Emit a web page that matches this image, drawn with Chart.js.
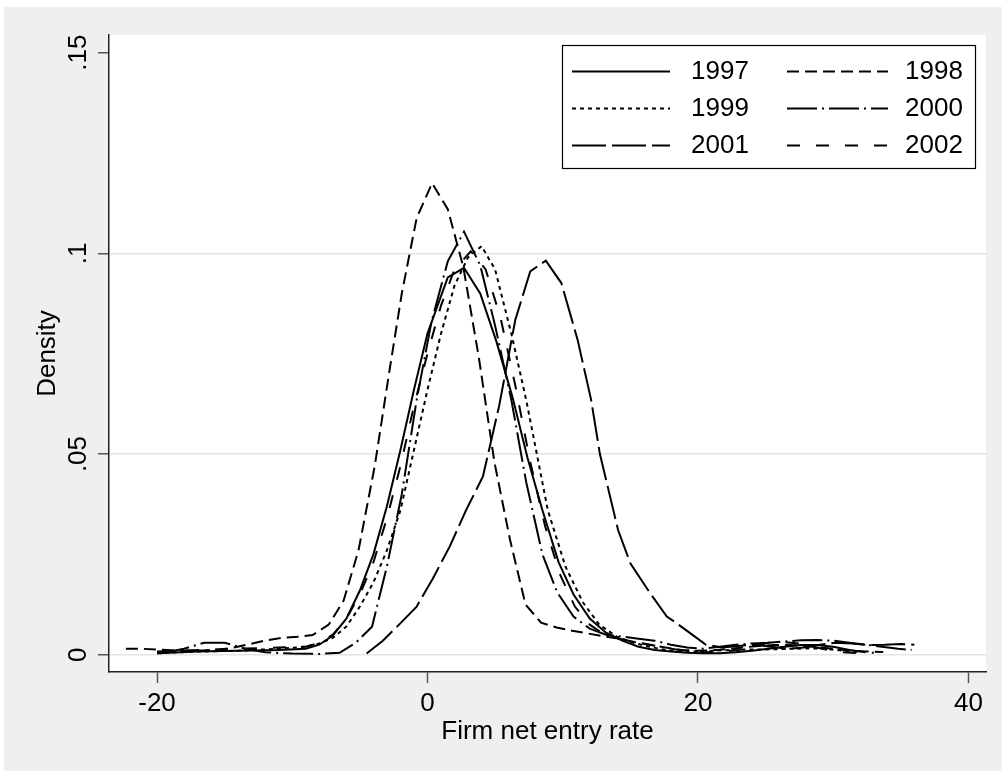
<!DOCTYPE html>
<html>
<head>
<meta charset="utf-8">
<script src="https://cdn.jsdelivr.net/npm/chart.js@4.4.0/dist/chart.umd.min.js"></script>
<style>
  html, body { margin: 0; padding: 0; background: #fff; }
  #wrap { width: 1002px; height: 771px; }
</style>
</head>
<body>
<div id="wrap"><canvas id="density" width="1002" height="771"></canvas></div>
<script>
// kernel density of firm net entry rate, one curve per year
const years = ['1997', '1998', '1999', '2000', '2001', '2002'];

const x1997 = [-20, -17, -14, -11, -9, -8, -7, -6, -5, -4, -3, -2, -1, 0, 1.5, 2.7, 3.9, 5.1, 6.3, 7.4, 8.5, 9.7, 10.8, 12, 13.2, 14.4, 15.6, 16.8, 18, 19.2, 20.4, 21.6, 22.8, 24, 25.2, 26.4, 27.6, 28.8, 30, 31.2, 32.4];
const y1997 = [.0004, .0008, .0010, .0012, .0015, .0025, .0048, .009, .016, .025, .037, .051, .066, .080, .094, .0964, .090, .078, .064, .049, .036, .023, .015, .009, .0055, .0035, .002, .0012, .0008, .0005, .0004, .0004, .0006, .001, .0015, .002, .0024, .0024, .002, .0012, .0006];

const x1998 = [-22.3, -21.2, -20, -18.9, -17.7, -16.5, -15.4, -14.3, -13.1, -11.9, -10.8, -9.6, -8.5, -7.3, -6.2, -5.1, -3.9, -2.8, -1.9, -0.8, 0.34, 1.5, 2.65, 3.8, 4.95, 6.1, 7.25, 8.4, 9.55, 10.7, 11.85, 13, 14.15, 15.3, 16.45, 17.6, 18.75, 19.9, 21, 22.2, 23.3, 24.5, 25.6, 26.8, 27.9, 29.1, 30.2, 31.4, 32.5, 33.7];
const y1998 = [.0015, .0015, .0013, .0011, .0010, .0011, .0013, .0018, .0027, .0036, .0042, .0045, .0049, .0075, .0135, .026, .047, .071, .090, .1088, .1175, .111, .0966, .074, .048, .0287, .0125, .008, .0068, .006, .0053, .0046, .004, .0032, .0025, .0018, .0012, .001, .0011, .0014, .0018, .0022, .0024, .0024, .0022, .0018, .0014, .001, .0008, .0007];

const x1999 = [-20, -17, -14, -11, -9, -8, -7, -6, -5, -4, -3, -2, -1, 0, 1, 2, 3, 4, 5, 6.2, 7.3, 8.9, 10.2, 11.5, 12.7, 14, 15.2, 16.4, 17.6, 18.8, 20, 21.2, 22.4, 23.6, 24.8, 26, 27.2, 28.4, 29.6, 30.8, 32];
const y1999 = [.0004, .0008, .0010, .0015, .0020, .0028, .0042, .0070, .012, .018, .026, .036, .051, .066, .080, .092, .099, .1018, .096, .080, .0635, .036, .022, .013, .0075, .0045, .003, .002, .0012, .0008, .0008, .001, .0012, .0013, .0013, .0014, .0015, .0016, .0014, .001, .0006];

const x2000 = [-19.8, -18, -16.5, -15, -13.5, -12, -10, -8, -6.5, -5.3, -4.1, -3, -1.9, -0.8, 0.3, 1.5, 2.7, 3.9, 5, 6.2, 7.3, 8.5, 9.6, 10.8, 12, 13.2, 14.4, 15.6, 16.8, 18, 19.2, 20.4, 21.6, 22.8, 24, 25.2, 26.4, 27.6, 28.8, 30, 31.2, 32.4, 33.6, 34.8, 35.8];
const y2000 = [.0003, .0015, .003, .003, .0015, .0006, .0003, .0002, .0005, .003, .007, .022, .040, .0635, .083, .098, .1054, .097, .082, .0635, .043, .025, .0155, .0095, .0065, .005, .0045, .004, .0035, .0025, .0018, .0015, .002, .0025, .0028, .003, .0033, .0036, .0037, .0035, .003, .0025, .002, .0015, .0012];

const x2001 = [-4.5, -3.3, -2.1, -0.8, 0.4, 1.65, 2.85, 4.1, 5.3, 6.5, 7.6, 8.75, 9.9, 11.1, 12.1, 12.75, 14.1, 15, 16.45, 17.7, 18.4, 19.9, 20.6, 21.8, 23, 24.2, 25.4, 26.6, 27.8, 29, 30.2, 31.4, 32.6, 33.8, 35, 36];
const y2001 = [.0003, .0035, .0075, .012, .019, .027, .036, .0444, .062, .0835, .0955, .0982, .0926, .0785, .0635, .050, .031, .0228, .0154, .0095, .0079, .0042, .0025, .0018, .0022, .0025, .002, .0015, .0018, .0025, .003, .0028, .0024, .0025, .0027, .0025];

const x2002 = [-20, -17, -14, -11, -9, -8, -7, -6, -5, -4, -3, -2, -1, 0, 1, 2, 3.2, 4.3, 5.4, 6.5, 7.6, 8.7, 9.8, 10.9, 12, 13.1, 14.2, 15.3, 16.4, 17.5, 18.6, 19.7, 20.8, 21.9, 23, 24.1, 25.2, 26.3, 27.4, 28.5, 29.6, 30.7, 31.8, 33];
const y2002 = [.0008, .0012, .0015, .0018, .002, .003, .005, .009, .015, .023, .034, .047, .062, .075, .087, .096, .1005, .096, .084, .067, .048, .032, .020, .012, .0075, .005, .004, .0032, .0025, .0018, .0012, .0008, .0006, .0008, .0012, .002, .003, .0032, .0028, .002, .0012, .0006, .0004, .0005];

const xTicks = [-20, 0, 20, 40];
const yTicks = [0, 0.05, 0.1, 0.15];

const xs = [x1997, x1998, x1999, x2000, x2001, x2002];
const ys = [y1997, y1998, y1999, y2000, y2001, y2002];
// stata-like line patterns
const dashes = [[], [12, 6], [4, 4], [30, 5, 2, 5], [34, 6], [13, 16]];

const FONT = { family: '"Liberation Sans", Arial, sans-serif', size: 26 };

const background = {
  id: 'background',
  beforeDraw(chart) {
    const { ctx, chartArea: a } = chart;
    ctx.save();
    ctx.fillStyle = '#fff';
    ctx.fillRect(0, 0, chart.width, chart.height);
    ctx.fillStyle = '#efefef';
    ctx.fillRect(4, 7, chart.width - 4, chart.height - 7);
    ctx.fillStyle = '#fff';
    ctx.fillRect(a.left, a.top, a.right - a.left, a.bottom - a.top);
    ctx.restore();
  }
};

// two-column legend in a box, top right of the plot
const boxLegend = {
  id: 'boxLegend',
  afterDatasetsDraw(chart) {
    const { ctx } = chart;
    const left = 562.5, top = 45.5, w = 413, h = 123;
    ctx.save();
    ctx.fillStyle = '#fff';
    ctx.fillRect(left, top, w, h);
    ctx.strokeStyle = '#000';
    ctx.lineWidth = 1.2;
    ctx.setLineDash([]);
    ctx.strokeRect(left, top, w, h);
    ctx.font = FONT.size + 'px ' + FONT.family;
    ctx.textBaseline = 'middle';
    ctx.textAlign = 'left';
    chart.data.datasets.forEach((ds, i) => {
      const col = i % 2, row = Math.floor(i / 2);
      const y = top + 26 + row * 37;
      const x0 = col === 0 ? 572 : 787;
      const x1 = col === 0 ? 670 : 888;
      const tx = col === 0 ? 691 : 905;
      ctx.strokeStyle = '#000';
      ctx.lineWidth = 2;
      ctx.setLineDash(ds.borderDash);
      ctx.beginPath();
      ctx.moveTo(x0, y);
      ctx.lineTo(x1, y);
      ctx.stroke();
      ctx.setLineDash([]);
      ctx.fillStyle = '#000';
      ctx.fillText(ds.label, tx, y);
    });
    ctx.restore();
  }
};

const ctx = document.getElementById('density').getContext('2d');
new Chart(ctx, {
  type: 'scatter',
  data: {
    datasets: years.map((yr, i) => ({
      label: yr,
      data: xs[i].map((x, j) => ({ x: x, y: ys[i][j] })),
      showLine: true,
      borderColor: '#000',
      borderWidth: 2,
      borderDash: dashes[i],
      pointRadius: 0,
      tension: 0,
      fill: false
    }))
  },
  options: {
    responsive: false,
    animation: false,
    layout: { padding: { top: 35, right: 16, left: 0, bottom: 0 } },
    plugins: { legend: { display: false }, tooltip: { enabled: false } },
    scales: {
      x: {
        type: 'linear',
        min: -23.55,
        max: 41.3,
        afterBuildTicks: s => { s.ticks = xTicks.map(v => ({ value: v })); },
        afterFit: s => { s.height = 99; },
        grid: { drawOnChartArea: false, drawTicks: true, tickLength: 11, tickColor: '#555', tickWidth: 1.5 },
        border: { display: true, color: '#222', width: 1.5 },
        ticks: { font: FONT, color: '#000', padding: 5, maxRotation: 0 },
        title: { display: true, text: 'Firm net entry rate', font: FONT, color: '#000', padding: { top: 0, bottom: 24 } }
      },
      y: {
        type: 'linear',
        min: -0.0043,
        max: 0.1544,
        afterBuildTicks: s => { s.ticks = yTicks.map(v => ({ value: v })); },
        afterFit: s => { s.width = 109; },
        grid: {
          color: c => (c.tick && c.tick.value === 0.15) ? 'rgba(0,0,0,0)' : '#e4e4e4',
          lineWidth: 1.5,
          drawTicks: true, tickLength: 11, tickColor: '#555', tickWidth: 1.5
        },
        border: { display: true, color: '#222', width: 1.5 },
        ticks: {
          font: FONT, color: '#000', padding: 1,
          minRotation: 90, maxRotation: 90, crossAlign: 'center',
          callback: v => v === 0 ? '0' : String(v).replace(/^0/, '')
        },
        title: { display: true, text: 'Density', font: FONT, color: '#000', padding: { top: 32, bottom: 0 } }
      }
    }
  },
  plugins: [background, boxLegend]
});
</script>
</body>
</html>
